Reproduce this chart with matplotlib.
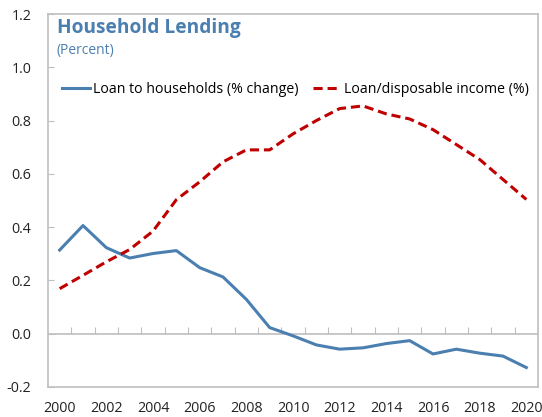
import numpy as np
import matplotlib.pyplot as plt

plt.rcParams['font.family'] = ['Open Sans', 'DejaVu Sans']
plt.rcParams['axes.unicode_minus'] = False

years = list(range(2000, 2021))
loan_change = [0.314, 0.406, 0.323, 0.284, 0.301, 0.312, 0.248, 0.213, 0.129, 0.023,
               -0.008, -0.042, -0.058, -0.053, -0.037, -0.026, -0.076, -0.058, -0.073, -0.084, -0.127]
loan_income = [0.169, 0.219, 0.27, 0.316, 0.385, 0.503, 0.57, 0.645, 0.69, 0.69,
               0.75, 0.80, 0.845, 0.855, 0.825, 0.806, 0.766, 0.71, 0.654, 0.579, 0.504]

blue = '#4a7fb0'
red = '#c00000'
grey = '#bfbfbf'

fig = plt.figure(figsize=(5.42, 4.17), dpi=100)
ax = fig.add_axes([48/542, 30/417, 490/542, 373/417])

ax.plot(years, loan_change, color=blue, lw=2.2, label='Loan to households (% change)')
ax.plot(years, loan_income, color=red, lw=2.2, ls=(0, (3, 1.6)), label='Loan/disposable income (%)')

ax.set_xlim(1999.5, 2020.5)
ax.set_ylim(-0.2, 1.2)
ax.set_yticks(np.arange(-0.2, 1.21, 0.2))
ax.set_yticklabels(['%.1f' % v for v in np.arange(-0.2, 1.21, 0.2)])
ax.set_xticks(range(2000, 2021, 2))
ax.tick_params(axis='x', length=0, pad=10, labelsize=10.3, colors='#222222')
ax.tick_params(axis='y', direction='in', length=4, color=grey, labelsize=10.3,
               labelcolor='#222222', pad=12)
for s in ax.spines.values():
    s.set_color(grey)
    s.set_linewidth(1.2)

# category axis line crossing at zero, with tick marks between years
zero_frac = (0 - (-0.2)) / 1.4
sec = ax.secondary_xaxis(zero_frac)
sec.set_xticks(np.arange(2000.5, 2020, 1))
sec.tick_params(direction='in', length=5, color=grey, labelbottom=False, labeltop=False)
sec.spines['bottom'].set_color(grey)
sec.spines['bottom'].set_linewidth(1.2)
sec.spines['top'].set_visible(False)

ax.text(0.018, 0.99, 'Household Lending', transform=ax.transAxes, color=blue,
        fontsize=13.8, fontweight='bold', va='top')
ax.text(0.018, 0.922, '(Percent)', transform=ax.transAxes, color=blue,
        fontsize=10, va='top')

ax.legend(loc='upper center', bbox_to_anchor=(0.505, 0.853), ncol=2, frameon=False,
          fontsize=10.2, handlelength=2.0, handletextpad=0.2, columnspacing=1.0)

fig.savefig('out.png', dpi=100)
